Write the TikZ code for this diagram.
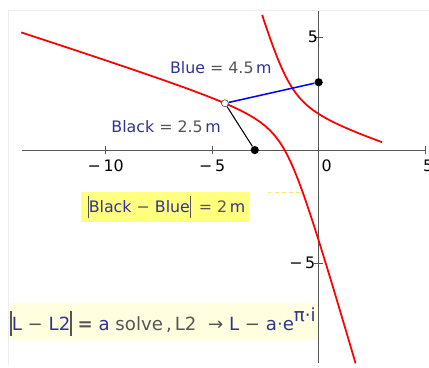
\documentclass[tikz,border=0pt]{standalone}
\usepackage{fontspec}
\setmainfont{DejaVu Sans}
\usepackage{xcolor}
\usetikzlibrary{positioning, calc}
\definecolor{mcvar}{RGB}{50, 50, 150}
\definecolor{mcgray}{RGB}{85, 85, 85}
\definecolor{mcyellow}{RGB}{255, 255, 128}
\definecolor{mcpale}{RGB}{255, 255, 224}
\newcommand{\mcbar}{\textcolor{mcgray}{\rule[-0.3em]{0.08em}{1.35em}}}
\newcommand{\mcv}[1]{\textcolor{mcvar}{#1}}

\begin{document}
\begin{tikzpicture}[
    x=0.639cm, y=0.678cm,
    axisline/.style={draw=mcgray, line width=0.9pt},
    tickmark/.style={draw=mcgray, line width=0.7pt},
    ticklabel/.style={font=\fontsize{13.5}{15}\selectfont, text=black, inner sep=1pt},
    branch/.style={draw=red, line width=1.5pt, samples=120, smooth},
    dot/.style={circle, fill=black, inner sep=0pt, minimum size=7pt},
    hollow/.style={circle, draw=mcgray, fill=white, line width=0.6pt, inner sep=0pt, minimum size=6pt},
    label/.style={font=\fontsize{13.5}{15}\selectfont, text=mcgray, inner sep=1pt},
    hilite/.style={label, fill=mcyellow, inner xsep=3pt, minimum height=0.9cm},
    pale/.style={label, font=\fontsize{15.5}{17}\selectfont, fill=mcpale, inner xsep=1pt, minimum height=1.1cm}
]
\useasboundingbox (-14.96,-9.60) rectangle (5.18,6.64);

% faint plot frame
\draw[black!7] (5.5,6.19) -- (-14.59,6.19) -- (-14.59,-9.51);

% axes
\coordinate (xstart) at (-13.93,0);
\coordinate (xend) at (5.04,0);
\coordinate (ytop) at (0,6.15);
\coordinate (ybot) at (0,-9.42);
\draw[axisline] (xstart) -- (xend);
\draw[axisline] (ytop) -- (ybot);
\foreach \x in {-10,-5,5}
    \draw[tickmark] (\x,-0.18) -- (\x,0.18);
\foreach \y in {-5,5}
    \draw[tickmark] (-0.2,\y) -- (0.2,\y);

\node[ticklabel, below=0.25cm] at (-10,0) {−\,10};
\node[ticklabel, below=0.25cm] at (-5,0) {−\,5};
\node[ticklabel, below right=0.25cm and 0.05cm] at (0,0) {0};
\node[ticklabel, below right=0.25cm and -0.1cm] at (5,0) {5};
\node[ticklabel, left=-0.02cm] at (0,5) {5};
\node[ticklabel, left=0.06cm] at (0,-5) {−\,5};

% hyperbola |d(Black) - d(Blue)| = 2
\draw[branch, domain=-2.38:2.51, variable=\t]
    plot ({-1.5-0.7071*cosh(\t)-1.3229*sinh(\t)}, {1.5-0.7071*cosh(\t)+1.3229*sinh(\t)});
\draw[branch, domain=-1.5:1.5, variable=\t]
    plot ({-1.5+0.7071*cosh(\t)-1.3229*sinh(\t)}, {1.5+0.7071*cosh(\t)+1.3229*sinh(\t)});

% foci and solution point
\node[dot] (black) at (-3,0) {};
\node[dot] (blue) at (0,3) {};
\node[hollow] (sol) at (-4.40,2.07) {};

\draw[black, line width=0.9pt] (sol) -- (black);
\draw[blue, line width=1.3pt] (sol) -- (blue);

\node[label] (bluelbl) at (-4.59,3.67) {\mcv{Blue} = 4.5\,\mcv{m}};
\node[label] (blacklbl) at (-7.16,1.06) {\mcv{Black} = 2.5\,\mcv{m}};

% equations
\draw[mcyellow!80!orange, dashed, line width=0.6pt] (-2.38,-1.86) -- (-0.88,-1.86);
\node[hilite, anchor=west] (diff) at (-11.15,-2.52)
    {\,\mcbar\mcv{Black}\ −\ \mcv{Blue}\mcbar\ \,=\ 2\,\mcv{m}};
\node[pale, anchor=west] (solve) at (-14.54,-7.59)
    {\mcbar\mcv{L} − \mcv{L2}\mcbar\ \textbf{=} \mcv{a}\ solve\,,\,L2\ \ → \mcv{L} − \mcv{a}·\mcv{e}\raisebox{0.5em}{\mcv{π·i}}};

\end{tikzpicture}
\end{document}
